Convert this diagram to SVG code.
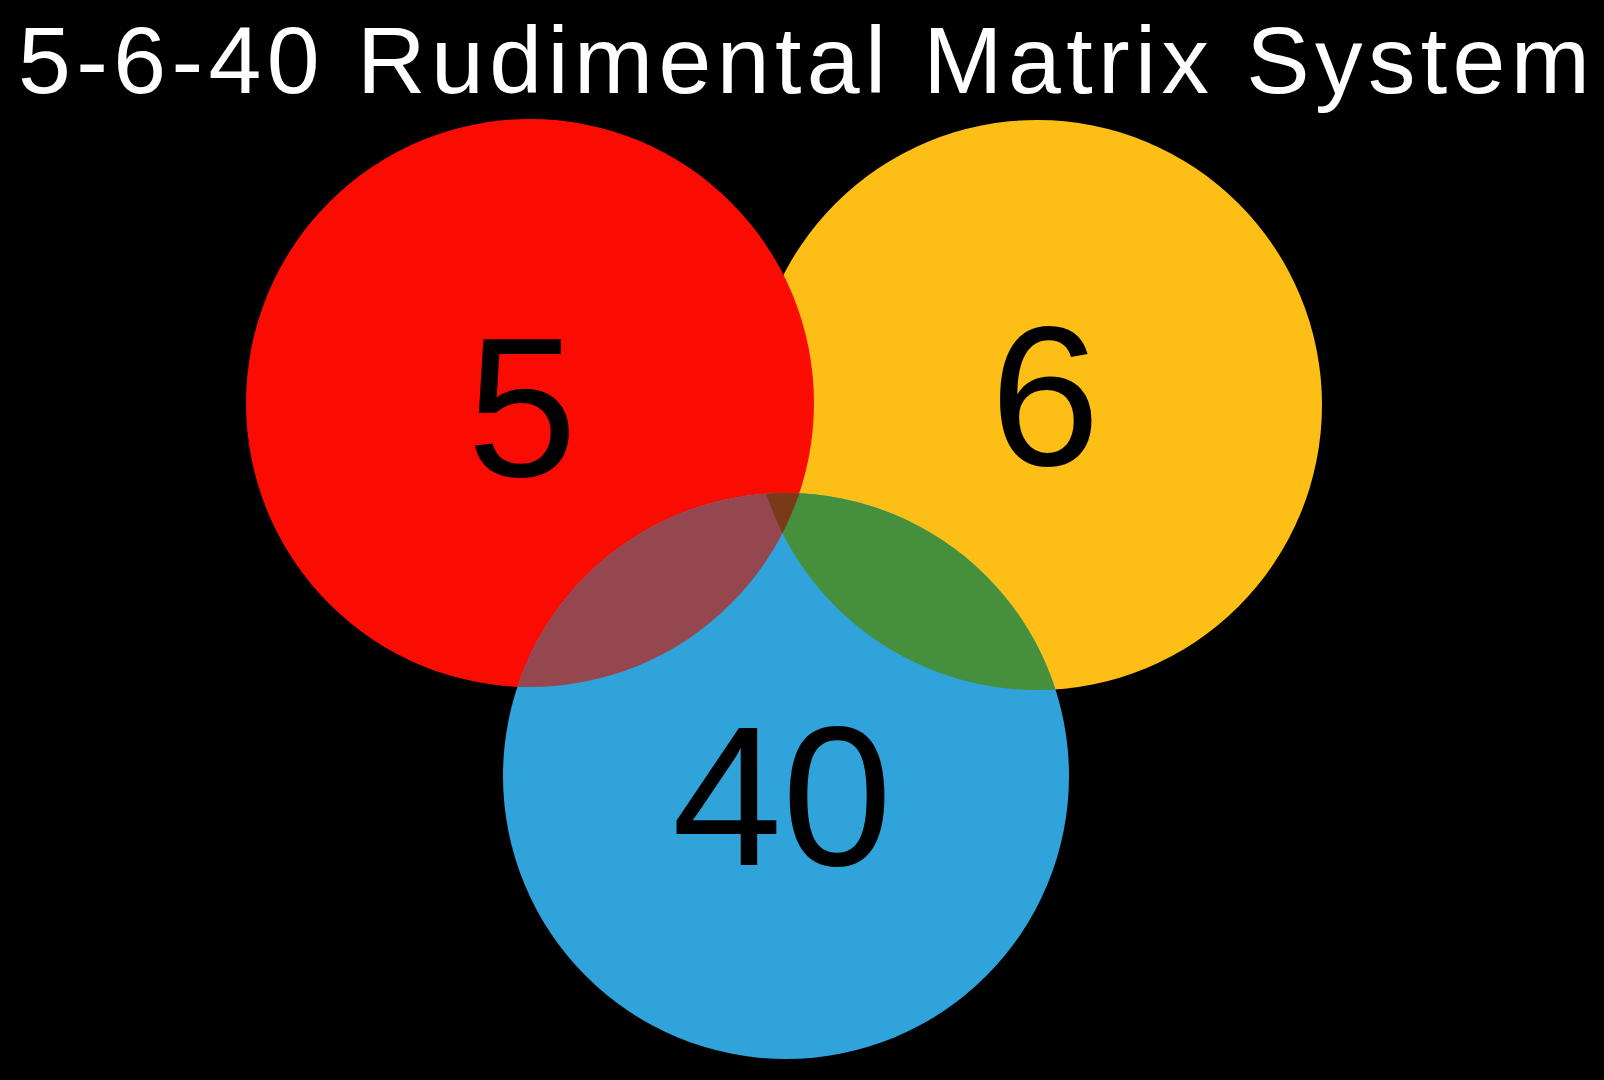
<svg xmlns="http://www.w3.org/2000/svg" width="1604" height="1080" viewBox="0 0 1604 1080">
  <style>
    .title { font-family: "Liberation Sans", Arial, sans-serif; font-size: 95px; fill: #ffffff; }
    .num { font-family: "Liberation Sans", Arial, sans-serif; font-size: 198px; fill: #000000; text-anchor: middle; }
  </style>
  <defs>
    <clipPath id="clipRed"><circle cx="530" cy="403" r="284"/></clipPath>
    <clipPath id="clipYellow"><circle cx="1037" cy="405" r="285"/></clipPath>
    <clipPath id="clipRedYellow" clip-path="url(#clipYellow)"><circle cx="530" cy="403" r="284"/></clipPath>
  </defs>
  <rect x="0" y="0" width="1604" height="1080" fill="#000000"/>
  <text class="title" x="18" y="93" textLength="1572" lengthAdjust="spacing">5-6-40 Rudimental Matrix System</text>

  <g id="node-6">
    <circle cx="1037" cy="405" r="285" fill="#fdbf16"/>
  </g>
  <g id="node-5">
    <circle cx="530" cy="403" r="284" fill="#fb0c02"/>
  </g>
  <g id="node-40">
    <circle cx="786" cy="776" r="283" fill="#2fa3da"/>
  </g>
  <g id="overlaps">
    <circle cx="786" cy="776" r="283" fill="#95474f" clip-path="url(#clipRed)"/>
    <circle cx="786" cy="776" r="283" fill="#468f3d" clip-path="url(#clipYellow)"/>
    <circle cx="786" cy="776" r="283" fill="#7a3a1a" clip-path="url(#clipRedYellow)"/>
  </g>
  <g id="labels">
    <text class="num" x="522" y="476">5</text>
    <text class="num" x="1045" y="465">6</text>
    <text class="num" x="782" y="865">40</text>
  </g>
  <g id="connectors"></g>
</svg>
